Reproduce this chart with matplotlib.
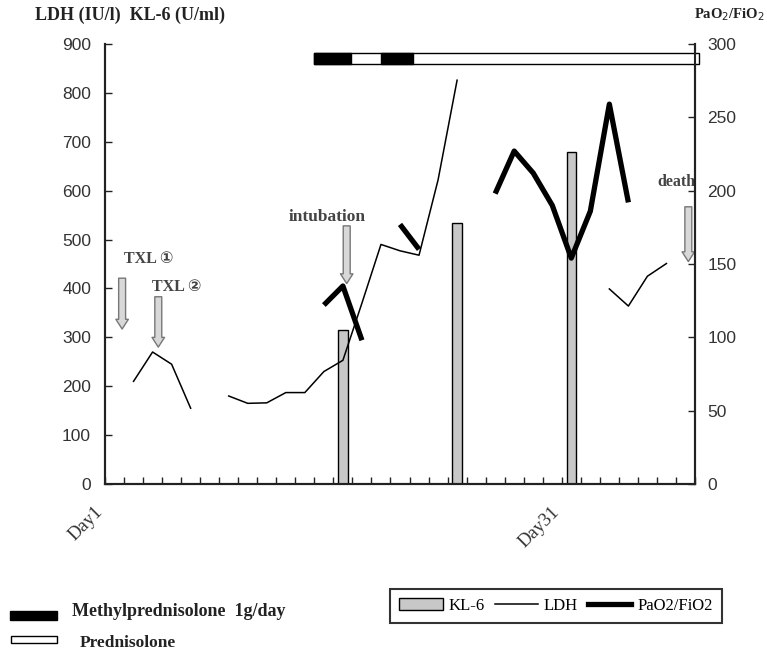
import numpy as np
import matplotlib
matplotlib.use("Agg")
import matplotlib.pyplot as plt
from matplotlib.patches import Rectangle, Patch
from matplotlib.lines import Line2D
from matplotlib.transforms import ScaledTranslation

nan = np.nan

# day index (categories 1..31)
days = np.arange(1, 32)

ldh = [nan, 210, 270, 245, 155, nan, 180, 165, 166, 187, 187, 230, 253, 370, 490,
       477, 468, 622, 826, nan, nan, nan, nan, nan, nan, nan, 399, 364, 425, 451, nan]

pao2 = [nan, nan, nan, nan, nan, nan, nan, nan, nan, nan, nan, 122, 135, 98, nan,
        177, 160, nan, nan, nan, 198, 227, 212, 190, 154, 186, 259, 192, nan, nan, nan]

kl6_days = [13, 19, 25]
kl6 = [316, 533, 680]

x_label_pos = [1, 25]
x_labels = ["Day1", "Day31"]

# steroid therapy (day axis positions)
methyl_start = [11.5, 15.0]
methyl_end = [13.4, 16.7]
pred_start = 11.5
pred_end = 31.7

# annotations: label, arrow x, arrow top, arrow tip, text x, text y (LDH axis units)
events = [("TXL \u2460", 1.4, 421, 317, 2.8, 460, 11.5),
          ("TXL \u2461", 3.3, 383, 280, 4.25, 403, 11.5),
          ("intubation", 13.2, 528, 410, 12.15, 547, 12.5),
          ("death", 31.15, 567, 455, 30.5, 618, 11.5)]

serif = ["Liberation Serif", "DejaVu Sans"]
sans = "Liberation Sans"
dark = "#222222"

fig = plt.figure(figsize=(7.67, 6.54), dpi=100)
ax = fig.add_axes([105 / 767, 1 - 484 / 654, 590 / 767, 440 / 654])
ax2 = ax.twinx()

ax.bar(kl6_days, kl6, width=0.5, color="#c8c8c8", edgecolor="black", linewidth=1.0, zorder=2)
ax.plot(days, ldh, color="black", linewidth=1.1, zorder=3)
ax2.plot(days, pao2, color="black", linewidth=3.8, solid_capstyle="butt", zorder=3)

ax.set_xlim(0.5, 31.5)
ax.set_ylim(0, 900)
ax2.set_ylim(0, 300)
ax.set_yticks(np.arange(0, 901, 100))
ax2.set_yticks(np.arange(0, 301, 50))

ax.set_xticks(x_label_pos)
ax.set_xticklabels(x_labels, rotation=45, ha="right", va="top", family=serif, fontsize=13.5, color="#333333")
ax.set_xticks(np.arange(0.5, 32, 1), minor=True)
ax.tick_params(axis="x", which="major", length=0, pad=14)
ax.tick_params(axis="x", which="minor", direction="in", length=5, width=1, color=dark)
for lab in ax.get_xticklabels():
    lab.set_transform(lab.get_transform() + ScaledTranslation(-0.08, 0, fig.dpi_scale_trans))

ax.tick_params(axis="y", direction="in", length=5, width=1, color=dark, pad=10, labelsize=12.5, labelcolor="#333333")
ax2.tick_params(axis="y", direction="in", length=5, width=1, color=dark, pad=9, labelsize=12.5, labelcolor="#333333")
for lab in ax.get_yticklabels() + ax2.get_yticklabels():
    lab.set_family(sans)

for a in (ax, ax2):
    a.spines["top"].set_visible(False)
    for s in ("left", "right", "bottom"):
        a.spines[s].set_color(dark)
        a.spines[s].set_linewidth(1.5)

# steroid bar at the top
ax.add_patch(Rectangle((pred_start, 859), pred_end - pred_start, 22, facecolor="white",
                       edgecolor="black", linewidth=1, clip_on=False, zorder=4))
for s, e in zip(methyl_start, methyl_end):
    ax.add_patch(Rectangle((s, 859), e - s, 22, facecolor="black", edgecolor="black",
                           linewidth=1, clip_on=False, zorder=5))

# event arrows
for label, xa, ytop, ytip, xt, yt, fs in events:
    ax.annotate("", xy=(xa, ytip), xytext=(xa, ytop),
                arrowprops=dict(arrowstyle="simple,head_length=0.7,head_width=0.9,tail_width=0.5",
                                fc="#d8d8d8", ec="#777777", lw=1, shrinkA=0, shrinkB=0,
                                mutation_scale=10))
    ax.text(xt, yt, label, ha="center", va="center", family=serif, fontsize=fs,
            fontweight="bold", color="#444444", zorder=1)

# axis titles
fig.text(35 / 767, 1 - 15 / 654, "LDH (IU/l)  KL-6 (U/ml)", family=serif, fontsize=13,
         fontweight="bold", ha="left", va="center", color="#222222")
fig.text(765 / 767, 1 - 15 / 654, "PaO$_2$/FiO$_2$", family=serif, fontsize=10.5,
         fontweight="bold", ha="right", va="center", color="#222222")

# bottom right legend
handles = [Patch(facecolor="#c8c8c8", edgecolor="black", linewidth=1),
           Line2D([], [], color="black", linewidth=1.1),
           Line2D([], [], color="black", linewidth=3.8)]
leg = fig.legend(handles, ["KL-6", "LDH", "PaO2/FiO2"], ncol=3, loc="center",
                 bbox_to_anchor=(556 / 767, 1 - 606 / 654), frameon=True, fancybox=False,
                 edgecolor="black", handlelength=2.6, handletextpad=0.35, columnspacing=0.6,
                 prop={"family": serif, "size": 12}, borderpad=0.55)
leg.get_frame().set_linewidth(1.5)

# bottom left legend (steroids)
fig.add_artist(Rectangle((10 / 767, 1 - 620 / 654), 47 / 767, 9 / 654, transform=fig.transFigure,
                         facecolor="black", edgecolor="black", linewidth=1))
fig.add_artist(Rectangle((11 / 767, 1 - 643 / 654), 46 / 767, 7 / 654, transform=fig.transFigure,
                         facecolor="white", edgecolor="black", linewidth=1))
fig.text(72 / 767, 1 - 612 / 654, "Methylprednisolone  1g/day", family=serif, fontsize=13,
         fontweight="bold", ha="left", va="center", color="#222222")
fig.text(80 / 767, 1 - 643 / 654, "Prednisolone", family=serif, fontsize=12.5,
         fontweight="bold", ha="left", va="center", color="#222222")

fig.savefig("out.png", dpi=100)
